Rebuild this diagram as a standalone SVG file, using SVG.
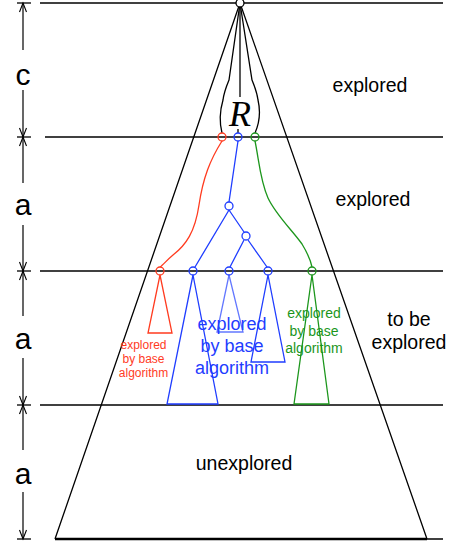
<svg xmlns="http://www.w3.org/2000/svg" width="451" height="547" viewBox="0 0 451 547">
<style>
.k{stroke:#000;stroke-width:1.3;fill:none}
.r{stroke:#ff3b1f;stroke-width:1.3;fill:none}
.b{stroke:#1f3dff;stroke-width:1.3;fill:none}
.g{stroke:#1c961c;stroke-width:1.3;fill:none}
.t{font-family:"Liberation Sans",Arial,sans-serif;text-anchor:middle}
.dim{stroke:#000;stroke-width:1.2;fill:none;marker-end:url(#ah)}
</style>
<defs>
<marker id="ah" markerUnits="userSpaceOnUse" markerWidth="10" markerHeight="8" refX="9" refY="3.5" orient="auto" overflow="visible">
<path d="M0,0 L9,3.5 L0,7" fill="none" stroke="#000" stroke-width="1.1"/>
</marker>
</defs>
<rect width="451" height="547" fill="#fff"/>
<g id="levels">
<line class="k" x1="40" y1="3" x2="443" y2="3"/>
<line class="k" x1="45" y1="137" x2="443" y2="137"/>
<line class="k" x1="40" y1="271" x2="443" y2="271"/>
<line class="k" x1="40" y1="405" x2="443" y2="405"/>
<line class="k" x1="55" y1="539" x2="443" y2="539"/>
<line x1="55" y1="539" x2="427" y2="539" stroke="#000" stroke-width="2.4"/>
</g>
<g id="dimensions">
<g stroke="#000" stroke-width="1.3">
<line x1="17" y1="3" x2="31" y2="3"/>
<line x1="17" y1="137" x2="31" y2="137"/>
<line x1="17" y1="271" x2="31" y2="271"/>
<line x1="17" y1="405" x2="31" y2="405"/>
<line x1="17" y1="539" x2="31" y2="539"/>
</g>
<line class="dim" x1="23" y1="50" x2="23" y2="3"/>
<line class="dim" x1="23" y1="90" x2="23" y2="137"/>
<line class="dim" x1="23" y1="183" x2="23" y2="137"/>
<line class="dim" x1="23" y1="225" x2="23" y2="271"/>
<line class="dim" x1="23" y1="316" x2="23" y2="271"/>
<line class="dim" x1="23" y1="358" x2="23" y2="405"/>
<line class="dim" x1="23" y1="450" x2="23" y2="405"/>
<line class="dim" x1="23" y1="492" x2="23" y2="539"/>
<text class="t" x="23" y="85" font-size="30">c</text>
<text class="t" x="23" y="215" font-size="30">a</text>
<text class="t" x="23" y="349" font-size="30">a</text>
<text class="t" x="23" y="484" font-size="30">a</text>
</g>
<g id="tree-outline">
<path class="k" d="M240,3 L55,539 M240,3 L427,539"/>
</g>
<g id="connectors">
<path class="k" d="M240,3 L229,80 Q224,92 223,100 Q218,117 222,133"/>
<path class="k" d="M240,3 L240,97"/>
<path class="k" d="M240,3 L252,80 Q257,92 258,100 Q262,117 255,133"/>
<path class="k" d="M238,129 L238,133"/>
<path class="r" d="M222,141 C210,160 203,178 199,205 C195,232 186,245 173,255 C167,260 163,265 160,267"/>
<path class="g" d="M255,141 C259,160 260,180 268,198 C276,215 292,230 302,244 C308,254 311,262 312,267"/>
<path class="b" d="M238,141 L229,202 M229,210 L195,267 M229,210 L244,232 M244,240 L230,267 M248,240 L267,267"/>
</g>
<g id="node-root"><circle cx="240" cy="3" r="4" fill="#fff" stroke="#000" stroke-width="1.3"/></g>
<g id="node-R"><text x="240" y="126" font-family="'Liberation Serif','Times New Roman',serif" font-style="italic" font-size="36" text-anchor="middle">R</text></g>
<g id="node-r1"><circle cx="222" cy="137" r="4" fill="#fff" class="r"/></g>
<g id="node-b1"><circle cx="238" cy="137" r="4" fill="#fff" class="b"/></g>
<g id="node-g1"><circle cx="255" cy="137" r="4" fill="#fff" class="g"/></g>
<g id="node-b2"><circle cx="229" cy="206" r="4" fill="#fff" class="b"/></g>
<g id="node-b3"><circle cx="246" cy="236" r="4" fill="#fff" class="b"/></g>
<g id="subtree-red">
<path class="r" d="M160,275 L148,333 L172,333 Z"/>
<circle cx="160" cy="271" r="4" fill="#fff" class="r"/>
<text class="t" x="143.5" fill="#ff3b1f" font-size="12"><tspan x="143.5" y="349">explored</tspan><tspan x="143.5" y="363">by base</tspan><tspan x="143.5" y="377">algorithm</tspan></text>
</g>
<g id="subtree-blue">
<path class="b" d="M193,275 L167,404 L218,404 Z"/>
<path class="b" stroke-opacity="0.7" d="M229,275 L217,332 L243,332 Z"/>
<path class="b" d="M268,275 L251,362 L285,362 Z"/>
<circle cx="193" cy="271" r="4" fill="#fff" class="b"/>
<circle cx="229" cy="271" r="4" fill="#fff" class="b"/>
<circle cx="268" cy="271" r="4" fill="#fff" class="b"/>
<text class="t" fill="#1f3dff" font-size="18"><tspan x="232" y="330">explored</tspan><tspan x="232" y="352">by base</tspan><tspan x="232" y="374">algorithm</tspan></text>
</g>
<g id="subtree-green">
<path class="g" d="M312,275 L294,404 L329,404 Z"/>
<circle cx="312" cy="271" r="4" fill="#fff" class="g"/>
<text class="t" fill="#1c961c" font-size="14"><tspan x="314" y="318">explored</tspan><tspan x="314" y="336">by base</tspan><tspan x="314" y="353">algorithm</tspan></text>
</g>
<g id="labels">
<text class="t" x="370" y="92" font-size="19.5">explored</text>
<text class="t" x="373" y="206" font-size="19.5">explored</text>
<text class="t" x="409" y="326" font-size="19.5">to be</text>
<text class="t" x="409" y="349" font-size="19.5">explored</text>
<text class="t" x="244" y="470" font-size="19.5">unexplored</text>
</g>
</svg>
